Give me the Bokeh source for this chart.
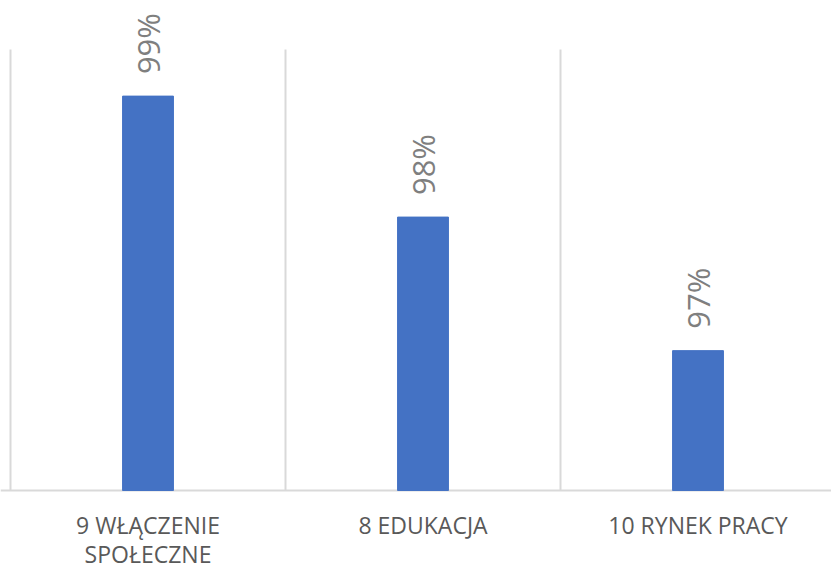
from bokeh.plotting import figure
from bokeh.models import ColumnDataSource, Range1d
from bokeh.core.properties import value
from bokeh.embed import file_html
from bokeh.resources import INLINE

categories = ["9 WŁĄCZENIE\nSPOŁECZNE", "8 EDUKACJA", "10 RYNEK PRACY"]
values = [0.9913, 0.9817, 0.9711]
labels = [f"{round(v * 100)}%" for v in values]
axis_min, axis_max = 0.96, 0.995

W, H = 831, 568
px_per_unit_y = 12600.0
px_per_cat = 275.0
left_px, top_px, base_px = 10, 49, 490

xs = [i + 0.5 for i in range(len(categories))]
src = ColumnDataSource(dict(x=xs, top=values, label=labels))
seps = [float(i) for i in range(len(categories))]

x0 = -left_px / px_per_cat
x1 = x0 + W / px_per_cat
y1 = axis_max + top_px / px_per_unit_y
y0 = axis_min - (H - base_px) / px_per_unit_y

p = figure(width=W, height=H, output_backend="svg", toolbar_location=None,
           x_range=Range1d(x0, x1), y_range=Range1d(y0, y1), min_border=0)
p.outline_line_color = None
p.background_fill_color = "white"
p.xgrid.visible = False
p.ygrid.visible = False
p.xaxis.visible = False
p.yaxis.visible = False

# category separators
p.segment(x0=seps, y0=[axis_min] * len(seps), x1=seps, y1=[axis_max] * len(seps),
          line_color="#d9d9d9", line_width=2)
# baseline (category axis line)
p.segment(x0=[x0], y0=[axis_min], x1=[x1], y1=[axis_min], line_color="#d9d9d9", line_width=2)

p.vbar(x="x", top="top", bottom=axis_min, width=0.185, source=src, color="#4472C4")

# data labels (rotated, reading upwards)
p.text(x="x", y="top", text="label", source=src, angle=1.5708,
       text_align="left", text_baseline="middle", y_offset=-22,
       text_font=value("Open Sans"), text_font_size="31px", text_color="#7f7f7f")

# category labels (one row per text line)
cx, ctext, coff = [], [], []
for x, c in zip(xs, categories):
    for j, line in enumerate(c.split("\n")):
        cx.append(x)
        ctext.append(line)
        coff.append(34 + 29 * j)
csrc = ColumnDataSource(dict(x=cx, y=[axis_min] * len(cx), text=ctext, off=coff))
p.text(x="x", y="y", text="text", y_offset="off", source=csrc,
       text_align="center", text_baseline="alphabetic",
       text_font=value("Open Sans"), text_font_size="23px", text_color="#595959")

open("out.html", "w").write(file_html(p, INLINE))
